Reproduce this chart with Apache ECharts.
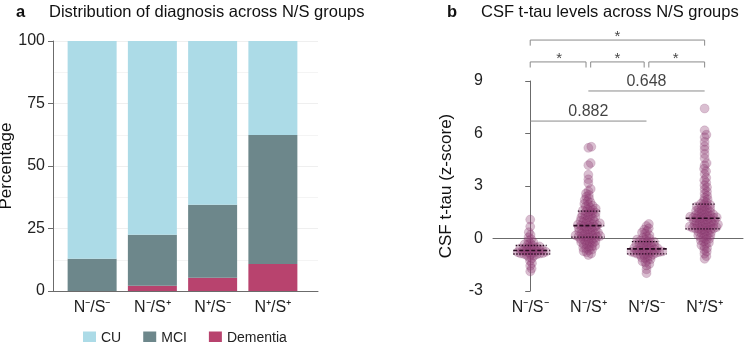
<!DOCTYPE html>
<html>
<head>
<meta charset="utf-8">
<script src="https://cdn.jsdelivr.net/npm/echarts@6/dist/echarts.min.js"></script>
<style>
  html, body { margin: 0; padding: 0; background: #fff; }
  #main { width: 747px; height: 342px; }
</style>
</head>
<body>
<div id="main"></div>
<script>
var chart = echarts.init(document.getElementById('main'));

// categories
var groups = ['N\u207B/S\u207B', 'N\u207B/S\u207A', 'N\u207A/S\u207B', 'N\u207A/S\u207A'];

// panel a: percentage by diagnosis
var cuPct = [87.1, 77.5, 65.5, 37.6];
var mciPct = [12.9, 20.4, 29.2, 51.6];
var demPct = [0, 2.1, 5.3, 10.8];

// panel b: CSF t-tau z-scores per group
var tauNmSm = [1.08, 0.68, 0.36, 0.21, 0.07, -0.04, -0.13, -0.21, -0.27, -0.33, -0.37, -0.41, -0.45,
  -0.48, -0.51, -0.55, -0.57, -0.6, -0.61, -0.64, -0.66, -0.67, -0.7, -0.72, -0.73, -0.76, -0.78,
  -0.79, -0.81, -0.83, -0.85, -0.86, -0.88, -0.9, -0.91, -0.94,
  -0.99, -1.06, -1.13, -1.27, -1.41, -1.56, -1.72, -1.88];
var tauNmSp = [5.24, 5.18, 4.31, 4.19, 3.64, 3.38, 3.17, 2.83, 2.71, 2.57, 2.49, 2.38, 2.29, 2.21,
  2.13, 2.06, 1.98, 1.93, 1.87, 1.82, 1.76, 1.71, 1.67, 1.63, 1.6,
  1.56, 1.52, 1.47, 1.45, 1.41, 1.36, 1.33, 1.3, 1.25, 1.22, 1.19, 1.14, 1.11, 1.08, 1.03, 1.01,
  0.97, 0.93, 0.9, 0.87, 0.84, 0.81, 0.79, 0.77, 0.75,
  0.72, 0.69, 0.66, 0.64, 0.6, 0.58, 0.55, 0.51, 0.49, 0.46, 0.43, 0.4, 0.38, 0.34, 0.32, 0.29,
  0.26, 0.24, 0.21, 0.18, 0.16, 0.14, 0.12, 0.1, 0.09,
  0.06, 0.04, 0.01, -0.03, -0.05, -0.09, -0.11, -0.16, -0.19, -0.22, -0.26, -0.29, -0.33, -0.36,
  -0.41, -0.44, -0.49, -0.53, -0.58, -0.63, -0.67, -0.73, -0.79, -0.86, -0.94];
var tauNpSm = [0.83, 0.71, 0.58, 0.51, 0.43, 0.34, 0.29, 0.19, 0.13, 0.05, 0.01, -0.06, -0.08, -0.13, -0.16,
  -0.19, -0.23, -0.24, -0.29, -0.31, -0.35, -0.36, -0.41, -0.42, -0.46, -0.48, -0.51, -0.54, -0.55, -0.58,
  -0.61, -0.62, -0.66, -0.67, -0.7, -0.71, -0.74, -0.76, -0.77, -0.79, -0.81, -0.82, -0.84, -0.85, -0.87,
  -0.9, -0.93, -0.95, -1.01, -1.03, -1.09, -1.12, -1.19, -1.23, -1.31, -1.37, -1.46, -1.54, -1.76, -1.98];
var tauNpSp = [7.43, 6.18, 5.93, 5.78, 5.52, 5.27, 5.08, 4.83, 4.58, 4.31, 4.17, 3.98, 3.84, 3.68,
  3.47, 3.33, 3.19, 3.04, 2.93, 2.81, 2.68, 2.56, 2.44, 2.33, 2.24, 2.15, 2.07, 1.99,
  1.95, 1.92, 1.88, 1.83, 1.8, 1.77, 1.72, 1.69, 1.66, 1.61, 1.58, 1.55, 1.52, 1.48, 1.45, 1.42,
  1.39, 1.36, 1.33, 1.31, 1.28, 1.26, 1.24, 1.22, 1.21, 1.19, 1.18, 1.17,
  1.14, 1.12, 1.09, 1.07, 1.04, 1.01, 0.99, 0.96, 0.93, 0.91, 0.88, 0.86, 0.84, 0.81, 0.79, 0.77,
  0.75, 0.73, 0.71, 0.69, 0.67, 0.65, 0.63, 0.61, 0.6, 0.58, 0.57, 0.56,
  0.52, 0.49, 0.45, 0.42, 0.38, 0.34, 0.31, 0.27, 0.23, 0.19, 0.15, 0.11, 0.07, 0.03, -0.02, -0.07,
  -0.12, -0.18, -0.24, -0.31, -0.38, -0.46, -0.55, -0.64, -0.75, -0.87, -1.01, -1.16];
var tauGroups = [tauNmSm, tauNmSp, tauNpSm, tauNpSp];

// pairwise comparisons shown above panel b
var pairs = [[0, 3], [0, 1], [1, 2], [2, 3], [1, 3], [0, 2]];
var pairLabels = ['*', '*', '*', '*', '0.648', '0.882'];
var pairLevels = [11.34, 10.09, 10.09, 10.09, 8.43, 6.71];

var FONT = 'Liberation Sans, Arial, Helvetica, sans-serif';
var AXIS_COLOR = '#6b6b6b';
var DOT = 9;

option = {
    animation: false,
    textStyle: { fontFamily: FONT },
    title: [
        { text: 'a', left: 11, top: -1, textStyle: { fontFamily: FONT, fontSize: 16.5, fontWeight: 'bold', color: '#111' } },
        { text: 'Distribution of diagnosis across N/S groups', left: 44, top: -1, textStyle: { fontFamily: FONT, fontSize: 16.5, fontWeight: 'normal', color: '#111' } },
        { text: 'b', left: 442, top: -1, textStyle: { fontFamily: FONT, fontSize: 16.5, fontWeight: 'bold', color: '#111' } },
        { text: 'CSF t-tau levels across N/S groups', left: 476, top: -1, textStyle: { fontFamily: FONT, fontSize: 16.5, fontWeight: 'normal', color: '#111' } }
    ],
    legend: {
        data: ['CU', 'MCI', 'Dementia'],
        left: 78,
        top: 326,
        icon: 'rect',
        itemWidth: 13,
        itemHeight: 13,
        itemGap: 22,
        selectedMode: false,
        textStyle: { fontFamily: FONT, fontSize: 14, color: '#222' }
    },
    grid: [
        { left: 53, width: 265, top: 41, bottom: 51, outerBoundsMode: 'none' },
        { left: 62, width: 241, top: 41, bottom: 51, outerBoundsMode: 'none' },
        { left: 493, right: 4, top: 81, bottom: 51, outerBoundsMode: 'none' },
        // same scale as panel b, taller, for the comparison brackets
        { left: 493, right: 4, top: 28.5, bottom: 51, outerBoundsMode: 'none' }
    ],
    xAxis: [
        {
            gridIndex: 0, type: 'value', min: 0, max: 1,
            axisLine: { show: true, lineStyle: { color: AXIS_COLOR, width: 1 } },
            axisTick: { show: false }, axisLabel: { show: false }, splitLine: { show: false }
        },
        {
            gridIndex: 1, type: 'category', data: groups,
            axisLine: { show: false }, axisTick: { show: false },
            axisLabel: { fontFamily: FONT, fontSize: 16, color: '#222', margin: 9 },
            splitLine: { show: false }
        },
        {
            gridIndex: 2, type: 'value', min: -0.64, max: 3.66,
            axisLine: { show: true, lineStyle: { color: AXIS_COLOR, width: 1 } },
            axisTick: { show: false },
            axisLabel: {
                customValues: [0, 1, 2, 3],
                formatter: function (v) { return groups[Math.round(v)]; },
                fontFamily: FONT, fontSize: 16, color: '#222', margin: 9
            },
            splitLine: { show: false }
        },
        { gridIndex: 3, type: 'value', min: -0.64, max: 3.66, show: false }
    ],
    yAxis: [
        {
            gridIndex: 0, type: 'value', min: 0, max: 100, interval: 25,
            name: 'Percentage', nameLocation: 'middle', nameGap: 32,
            nameTextStyle: { fontFamily: FONT, fontSize: 17, color: '#111' },
            axisLine: { show: true, lineStyle: { color: AXIS_COLOR, width: 1 } },
            axisTick: { show: true, length: 5, lineStyle: { color: AXIS_COLOR } },
            axisLabel: { fontFamily: FONT, fontSize: 16, color: '#222', margin: 8 },
            splitLine: { show: true, lineStyle: { color: '#efefef', width: 1 } },
            minorTick: { show: false, splitNumber: 2 },
            minorSplitLine: { show: true, lineStyle: { color: '#f4f4f4', width: 1 } }
        },
        { gridIndex: 1, type: 'value', min: 0, max: 100, show: false },
        {
            gridIndex: 2, type: 'value', min: -3, max: 9, interval: 3,
            name: 'CSF t-tau (z-score)', nameLocation: 'middle', nameGap: 38,
            nameTextStyle: { fontFamily: FONT, fontSize: 17, color: '#111' },
            axisLine: { show: true, lineStyle: { color: AXIS_COLOR, width: 1 } },
            axisTick: { show: true, length: 5, lineStyle: { color: AXIS_COLOR } },
            axisLabel: { fontFamily: FONT, fontSize: 16, color: '#222', margin: 10 },
            splitLine: { show: false }
        },
        { gridIndex: 3, type: 'value', min: -3, max: 12, show: false }
    ],
    series: []
};

var barSeries = [
    { name: 'Dementia', type: 'bar', xAxisIndex: 1, yAxisIndex: 1, stack: 'dx', barWidth: 49, itemStyle: { color: '#b8436e' }, data: demPct },
    { name: 'MCI', type: 'bar', xAxisIndex: 1, yAxisIndex: 1, stack: 'dx', barWidth: 49, itemStyle: { color: '#6d878b' }, data: mciPct },
    { name: 'CU', type: 'bar', xAxisIndex: 1, yAxisIndex: 1, stack: 'dx', barWidth: 49, itemStyle: { color: '#acdbe7' }, data: cuPct }
];
option.series = barSeries;
chart.setOption(option);

// pixel scale of panel b, used for the swarm layout
var p0 = chart.convertToPixel({ gridIndex: 2 }, [0, 0]);
var p1 = chart.convertToPixel({ gridIndex: 2 }, [1, 1]);
var pxX = p1[0] - p0[0];
var pxY = p0[1] - p1[1];

function quantile(arr, q) {
    var s = arr.slice().sort(function (a, b) { return a - b; });
    var pos = (s.length - 1) * q;
    var lo = Math.floor(pos), hi = Math.ceil(pos);
    return s[lo] + (s[hi] - s[lo]) * (pos - lo);
}

// simple beeswarm: place points in value order at the nearest free x offset
function beeswarm(vals, d) {
    var idx = vals.map(function (v, i) { return i; }).sort(function (a, b) { return vals[a] - vals[b]; });
    var placed = [];
    var xs = new Array(vals.length);
    idx.forEach(function (i) {
        var y = -vals[i] * pxY;
        var near = placed.filter(function (p) { return Math.abs(p.y - y) < d; });
        var cands = [0];
        near.forEach(function (p) {
            var dx = Math.sqrt(d * d - (p.y - y) * (p.y - y));
            cands.push(p.x + dx, p.x - dx);
        });
        cands.sort(function (a, b) { return Math.abs(a) - Math.abs(b); });
        var x = cands.find(function (c) {
            return near.every(function (p) { return (p.x - c) * (p.x - c) + (p.y - y) * (p.y - y) >= d * d - 1e-6; });
        });
        xs[i] = x;
        placed.push({ x: x, y: y });
    });
    return xs;
}

var swarmSeries = [];
var statSeries = [];
tauGroups.forEach(function (vals, g) {
    var xs = beeswarm(vals, 3.15);
    swarmSeries.push({
        type: 'scatter', xAxisIndex: 2, yAxisIndex: 2, symbolSize: DOT, silent: true,
        itemStyle: { color: 'rgba(146, 64, 118, 0.42)', borderColor: 'rgba(120, 45, 95, 0.35)', borderWidth: 0.6 },
        data: vals.map(function (v, i) { return [g + xs[i] / pxX, v]; })
    });
    [[0.25, [1.5, 1.5]], [0.5, [4, 2]], [0.75, [1.5, 1.5]]].forEach(function (st) {
        var q = quantile(vals, st[0]);
        var band = xs.filter(function (x, i) { return Math.abs(vals[i] - q) * pxY <= DOT / 2; });
        var lo = Math.min.apply(null, band) - DOT / 2;
        var hi = Math.max.apply(null, band) + DOT / 2;
        statSeries.push({
            type: 'line', xAxisIndex: 2, yAxisIndex: 2, symbol: 'none', silent: true, z: 5,
            lineStyle: { color: '#2a0d22', width: st[0] === 0.5 ? 1.6 : 1.3, type: st[1] },
            data: [[g + lo / pxX, q], [g + hi / pxX, q]]
        });
    });
});

// comparison brackets
var bracketSeries = [];
var labelData = [];
pairs.forEach(function (pr, k) {
    var lvl = pairLevels[k];
    var isStar = pairLabels[k] === '*';
    var a = pr[0], b = pr[1];
    if (isStar) {
        // adjacent brackets on the same row leave a small gap at shared ends
        pairs.forEach(function (o, j) {
            if (j !== k && pairLevels[j] === lvl) {
                if (o[1] === pr[0]) a = pr[0] + 0.04;
                if (o[0] === pr[1]) b = pr[1] - 0.04;
            }
        });
    }
    var drop = isStar ? 0.32 : 0;
    bracketSeries.push({
        type: 'line', xAxisIndex: 3, yAxisIndex: 3, symbol: 'none', silent: true,
        lineStyle: { color: '#8a8a8a', width: 1 },
        data: drop ? [[a, lvl - drop], [a, lvl], [b, lvl], [b, lvl - drop]] : [[a, lvl], [b, lvl]]
    });
    labelData.push({
        value: [(pr[0] + pr[1]) / 2, lvl],
        text: pairLabels[k],
        label: { offset: isStar ? [0, 5] : [0, 0], fontSize: isStar ? 15 : 16 }
    });
});

var labelSeries = {
    type: 'scatter', xAxisIndex: 3, yAxisIndex: 3, symbolSize: 0, silent: true,
    label: {
        show: true, position: 'top', distance: 1, color: '#111', fontFamily: FONT, fontSize: 16,
        formatter: function (p) { return p.data.text; }
    },
    data: labelData
};

chart.setOption({
    series: barSeries.concat(bracketSeries, swarmSeries, statSeries, [labelSeries])
});
</script>
</body>
</html>
